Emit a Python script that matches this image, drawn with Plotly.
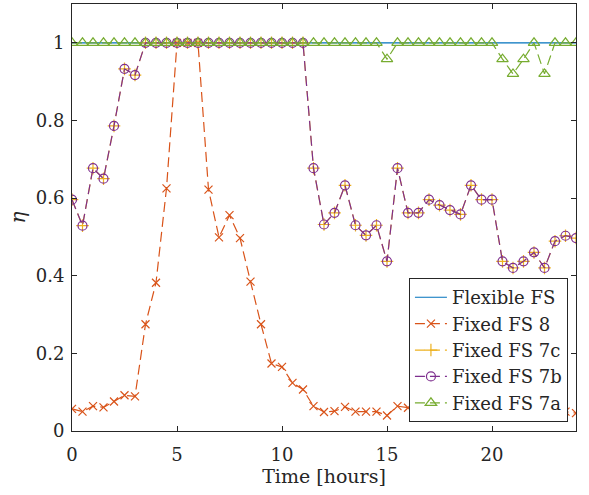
import plotly.graph_objects as go

time_hours = [i * 0.5 for i in range(49)]

flexible_fs = [1.0] * 49

fixed_fs_8 = [0.057, 0.050, 0.064, 0.061, 0.076, 0.092, 0.089, 0.275, 0.382, 0.625,
              1.0, 1.0, 1.0, 0.622, 0.499, 0.556, 0.497, 0.385, 0.275, 0.174,
              0.165, 0.124, 0.107, 0.064, 0.049, 0.051, 0.062, 0.050, 0.050, 0.050,
              0.040, 0.064, 0.060, 0.055, 0.065, 0.058, 0.052, 0.060, 0.055, 0.050,
              0.058, 0.052, 0.060, 0.055, 0.050, 0.057, 0.052, 0.050, 0.046]

fixed_fs_7b = [0.596, 0.529, 0.677, 0.650, 0.786, 0.933, 0.917,
               1.0, 1.0, 1.0, 1.0, 1.0, 1.0, 1.0, 1.0, 1.0, 1.0, 1.0, 1.0, 1.0, 1.0, 1.0, 1.0,
               0.677, 0.532, 0.562, 0.633, 0.530, 0.504, 0.530, 0.437, 0.677, 0.562,
               0.562, 0.596, 0.582, 0.569, 0.558, 0.633, 0.596, 0.596, 0.437, 0.420,
               0.437, 0.460, 0.420, 0.489, 0.503, 0.497]

fixed_fs_7c = [0.596, 0.529, 0.677, 0.650, 0.786, 0.933, 0.917,
               1.0, 1.0, 1.0, 1.0, 1.0, 1.0, 1.0, 1.0, 1.0, 1.0, 1.0, 1.0, 1.0, 1.0, 1.0, 1.0,
               0.677, 0.532, 0.562, 0.633, 0.530, 0.504, 0.530, 0.437, 0.677, 0.562,
               0.562, 0.596, 0.582, 0.569, 0.558, 0.633, 0.596, 0.596, 0.437, 0.420,
               0.437, 0.460, 0.420, 0.489, 0.503, 0.497]

fixed_fs_7a = [1.0] * 30 + [0.958] + [1.0] * 10 + [0.958, 0.920, 0.958, 1.0, 0.920, 1.0, 1.0, 1.0]

x_ticks = [0, 5, 10, 15, 20]
y_ticks = [0, 0.2, 0.4, 0.6, 0.8, 1]
y_tick_labels = ["0", "0.2", "0.4", "0.6", "0.8", "1"]

BLUE = "#0072BD"
ORANGE = "#D95319"
YELLOW = "#EDB120"
PURPLE = "#7E2F8E"
GREEN = "#77AC30"

fig = go.Figure()
fig.add_trace(go.Scatter(x=time_hours, y=flexible_fs, mode="lines", name="Flexible FS",
                         line=dict(color=BLUE, width=1.2)))
fig.add_trace(go.Scatter(x=time_hours, y=fixed_fs_8, mode="lines+markers", name="Fixed FS 8",
                         line=dict(color=ORANGE, width=1.2, dash="10px,5px"),
                         marker=dict(symbol="x-thin", size=8, line=dict(color=ORANGE, width=1.2))))
fig.add_trace(go.Scatter(x=time_hours, y=fixed_fs_7c, mode="lines+markers", name="Fixed FS 7c",
                         line=dict(color=YELLOW, width=1.2, dash="10px,5px"),
                         marker=dict(symbol="cross-thin", size=9, line=dict(color=YELLOW, width=1.2))))
fig.add_trace(go.Scatter(x=time_hours, y=fixed_fs_7b, mode="lines+markers", name="Fixed FS 7b",
                         line=dict(color=PURPLE, width=1.2, dash="10px,5px"),
                         marker=dict(symbol="circle-open", size=9, color=PURPLE, line=dict(width=1.2))))
fig.add_trace(go.Scatter(x=time_hours, y=fixed_fs_7a, mode="lines+markers", name="Fixed FS 7a",
                         line=dict(color=GREEN, width=1.2, dash="10px,5px"),
                         marker=dict(symbol="triangle-up-open", size=10, color=GREEN, line=dict(width=1.2))))

font_family = "DejaVu Serif"
axis_common = dict(showline=True, linecolor="#262626", linewidth=1, mirror="ticks",
                   ticks="inside", ticklen=5, tickcolor="#262626", showgrid=False, zeroline=False,
                   tickfont=dict(family=font_family, size=18, color="#262626"))

fig.update_layout(
    width=589, height=495,
    margin=dict(l=72, r=13, t=4, b=64),
    paper_bgcolor="white", plot_bgcolor="white",
    font=dict(family=font_family, color="#262626"),
    xaxis=dict(range=[0, 24], tickvals=x_ticks, ticklabelstandoff=7,
               title=dict(text="Time [hours]", font=dict(family=font_family, size=19), standoff=3),
               **axis_common),
    yaxis=dict(range=[0, 1.1], tickvals=y_ticks, ticktext=y_tick_labels, ticklabelstandoff=3,
               title=dict(text="<i>η</i>", font=dict(family=font_family, size=20), standoff=4),
               **axis_common),
    legend=dict(x=0.984, y=0.021, xanchor="right", yanchor="bottom",
                bgcolor="white", bordercolor="#262626", borderwidth=1,
                font=dict(family=font_family, size=18, color="#262626"),
                tracegroupgap=0, itemwidth=32),
    showlegend=True,
)

fig.write_html("out.html", config={"displayModeBar": False},
               post_script="document.body.style.margin='0';")
